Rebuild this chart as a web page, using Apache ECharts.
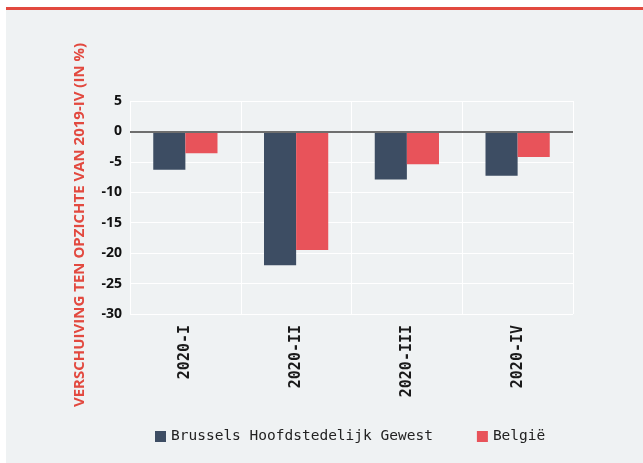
<!DOCTYPE html>
<html>
<head>
<meta charset="utf-8">
<script src="https://cdn.jsdelivr.net/npm/echarts@6/dist/echarts.min.js"></script>
<style>
  body { margin: 0; background: #ffffff; }
  .panel {
    position: absolute;
    left: 6px;
    top: 7px;
    width: 637px;
    height: 453px;
    background: #eff2f3;
    border-top: 3px solid #e2493f;
  }
  #chart {
    position: absolute;
    left: 0;
    top: 0;
    width: 643px;
    height: 463px;
  }
</style>
</head>
<body>
<div class="panel"></div>
<div id="chart"></div>
<script>
// kwartalen
const categories = ['2020-I', '2020-II', '2020-III', '2020-IV']
// verschuiving t.o.v. 2019-IV (in %)
const brussels = [-6.3, -22.0, -7.9, -7.3]
const belgie = [-3.6, -19.5, -5.4, -4.2]

const chart = echarts.init(document.getElementById('chart'))

const option = {
  backgroundColor: 'transparent',
  animation: false,
  grid: {
    left: 130,
    right: 70,
    top: 101,
    bottom: 149
  },
  graphic: [
    {
      type: 'text',
      x: 80,
      y: 225,
      rotation: Math.PI / 2,
      style: {
        text: 'VERSCHUIVING TEN OPZICHTE VAN 2019-IV (IN %)',
        fill: '#e2493f',
        font: 'bold 15px "Open Sans", sans-serif',
        align: 'center',
        verticalAlign: 'middle'
      }
    }
  ],
  legend: {
    left: 150,
    top: 424,
    itemWidth: 11,
    itemHeight: 11,
    itemGap: 44,
    icon: 'rect',
    textStyle: {
      fontFamily: '"DejaVu Sans Mono", monospace',
      fontSize: 14.5,
      color: '#222'
    },
    data: ['Brussels Hoofdstedelijk Gewest', 'België']
  },
  xAxis: {
    type: 'category',
    data: categories,
    axisLine: { show: false, onZero: false },
    axisTick: { show: false },
    axisLabel: {
      rotate: 90,
      margin: 11,
      fontFamily: '"DejaVu Sans Mono", monospace',
      fontWeight: 'bold',
      fontSize: 15,
      color: '#1a1a1a'
    },
    splitLine: {
      show: true,
      lineStyle: { color: '#ffffff', width: 1 }
    }
  },
  yAxis: {
    type: 'value',
    min: -30,
    max: 5,
    interval: 5,
    axisLine: { show: false },
    axisTick: { show: false },
    axisLabel: {
      margin: 8,
      fontFamily: '"Open Sans", sans-serif',
      fontWeight: 'bold',
      fontSize: 14,
      color: '#111'
    },
    splitLine: {
      lineStyle: { color: '#ffffff', width: 1 }
    }
  },
  series: [
    {
      name: 'Brussels Hoofdstedelijk Gewest',
      type: 'bar',
      data: brussels,
      barGap: '0%',
      barCategoryGap: '42%',
      itemStyle: { color: '#3d4d63' }
    },
    {
      name: 'België',
      type: 'bar',
      data: belgie,
      itemStyle: { color: '#e8535a' },
      markLine: {
        silent: true,
        symbol: 'none',
        label: { show: false },
        lineStyle: { color: '#6e6e6e', width: 2, type: 'solid' },
        data: [{ yAxis: 0 }]
      }
    }
  ]
}

chart.setOption(option)
</script>
</body>
</html>
